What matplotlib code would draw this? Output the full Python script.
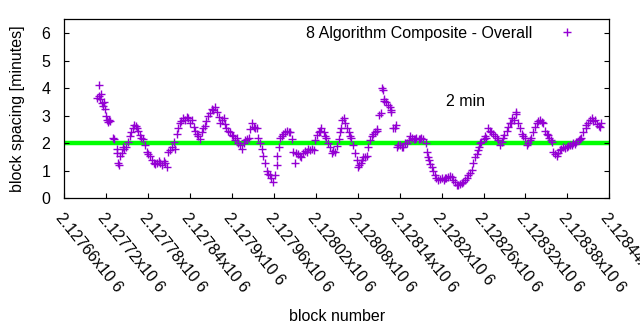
import matplotlib
matplotlib.use("Agg")
import matplotlib.pyplot as plt

plt.rcParams["font.family"] = ["Liberation Sans", "DejaVu Sans"]
plt.rcParams["font.size"] = 11.5

# block offsets from the first block on the axis, and spacing in minutes
first_block = 2127660
block_offset = [
    47, 49, 50, 51, 53, 54, 56, 57, 58, 60, 61, 62, 64, 66, 69, 71, 75, 76, 77, 78,
    80, 82, 84, 86, 88, 91, 94, 95, 98, 100, 103, 104, 106, 108, 110, 113, 115, 118, 120, 122,
    125, 128, 130, 132, 135, 137, 140, 142, 144, 147, 149, 151, 154, 157, 158, 161, 163, 166, 167, 170,
    173, 176, 177, 180, 183, 185, 187, 190, 192, 194, 197, 199, 202, 203, 206, 208, 211, 213, 216, 218,
    221, 223, 225, 228, 230, 232, 235, 237, 240, 242, 245, 247, 249, 251, 254, 257, 258, 261, 264, 266,
    268, 271, 273, 276, 277, 280, 283, 285, 287, 290, 292, 294, 296, 299, 302, 304, 305, 307, 309, 312,
    313, 316, 319, 321, 323, 326, 328, 330, 332, 335, 338, 339, 342, 345, 347, 349, 352, 354, 357, 359,
    362, 364, 366, 368, 371, 373, 375, 378, 380, 383, 385, 387, 390, 393, 394, 396, 398, 400, 402, 404,
    407, 409, 411, 413, 416, 419, 420, 422, 424, 426, 428, 430, 433, 435, 438, 440, 442, 445, 447, 448,
    451, 453, 455, 456, 457, 458, 461, 463, 466, 467, 468, 471, 474, 475, 476, 478, 481, 483, 485, 487,
    490, 493, 495, 497, 500, 502, 504, 507, 509, 511, 514, 517, 519, 520, 522, 524, 526, 528, 530, 532,
    535, 538, 540, 543, 545, 547, 549, 552, 555, 556, 559, 562, 564, 566, 569, 571, 574, 576, 578, 581,
    584, 585, 588, 590, 592, 593, 595, 597, 600, 602, 604, 607, 609, 611, 614, 617, 619, 621, 624, 626,
    628, 630, 633, 635, 638, 639, 641, 644, 646, 647, 649, 652, 655, 656, 659, 662, 664, 666, 668, 671,
    674, 676, 678, 681, 683, 685, 688, 691, 692, 694, 696, 698, 700, 702, 705, 707, 710, 711, 714, 717,
    719, 721, 724, 727, 728, 731, 733, 736, 738, 740, 743, 746, 747, 750, 753, 755, 757, 760, 762, 765,
    766, 768,
]
spacing_min = [
    3.65, 3.72, 4.13, 3.60, 3.78, 3.45, 3.35, 3.50, 3.26, 3.00, 2.85, 2.78, 2.83, 2.80, 2.20, 2.15, 1.80, 1.63, 1.30, 1.20,
    1.55, 1.65, 1.85, 1.80, 1.85, 2.05, 2.28, 2.40, 2.57, 2.65, 2.64, 2.55, 2.46, 2.30, 2.20, 2.17, 1.95, 1.67, 1.60, 1.55,
    1.40, 1.30, 1.25, 1.27, 1.35, 1.30, 1.22, 1.35, 1.27, 1.15, 1.67, 1.75, 1.85, 2.03, 1.80, 2.35, 2.55, 2.75, 2.80, 2.90,
    2.85, 2.95, 2.93, 2.75, 2.83, 2.60, 2.46, 2.35, 2.28, 2.17, 2.40, 2.57, 2.64, 2.80, 3.00, 3.10, 3.26, 3.20, 3.30, 3.12,
    2.95, 2.75, 2.85, 2.93, 2.70, 2.57, 2.45, 2.39, 2.30, 2.28, 2.10, 2.20, 2.00, 1.92, 1.80, 2.00, 2.10, 2.15, 2.20, 2.50,
    2.72, 2.60, 2.54, 2.54, 2.20, 2.00, 1.80, 1.55, 1.30, 1.00, 0.90, 0.83, 0.75, 0.58, 0.83, 1.20, 1.55, 1.85, 2.20, 2.28,
    2.35, 2.40, 2.46, 2.42, 2.39, 2.17, 1.67, 1.30, 1.63, 1.60, 1.55, 1.50, 1.63, 1.70, 1.67, 1.80, 1.74, 1.78, 1.74, 2.10,
    2.30, 2.39, 2.45, 2.54, 2.40, 2.28, 2.20, 2.00, 1.85, 1.63, 1.70, 1.67, 1.90, 2.17, 2.40, 2.54, 2.83, 2.90, 2.72, 2.54,
    2.40, 2.28, 2.20, 1.92, 1.63, 1.38, 1.12, 1.20, 1.27, 1.40, 1.49, 1.50, 1.55, 1.85, 2.10, 2.28, 2.35, 2.39, 2.50, 2.46,
    3.04, 3.10, 3.99, 3.95, 3.62, 3.55, 3.48, 3.40, 3.30, 3.20, 3.12, 2.54, 2.57, 2.65, 1.85, 1.95, 1.92, 1.88, 1.85, 2.00,
    2.00, 2.10, 2.28, 2.20, 2.15, 2.17, 2.20, 2.15, 2.17, 2.20, 2.17, 2.00, 1.67, 1.50, 1.38, 1.25, 1.12, 1.00, 0.83, 0.72,
    0.65, 0.70, 0.72, 0.68, 0.72, 0.75, 0.76, 0.80, 0.76, 0.68, 0.58, 0.50, 0.47, 0.52, 0.54, 0.60, 0.65, 0.72, 0.83, 0.92,
    1.01, 1.27, 1.49, 1.60, 1.74, 1.85, 2.00, 2.05, 2.17, 2.25, 2.20, 2.54, 2.45, 2.39, 2.35, 2.28, 2.20, 2.10, 1.92, 2.05,
    2.20, 2.30, 2.46, 2.60, 2.72, 2.75, 2.90, 2.85, 3.05, 3.12, 2.75, 2.54, 2.35, 2.25, 2.20, 1.92, 2.00, 2.10, 2.20, 2.39,
    2.60, 2.75, 2.80, 2.83, 2.78, 2.75, 2.46, 2.35, 2.30, 2.20, 2.10, 2.03, 1.67, 1.60, 1.55, 1.65, 1.74, 1.80, 1.85, 1.82,
    1.85, 1.90, 1.92, 1.95, 2.00, 1.98, 2.03, 2.10, 2.17, 2.20, 2.40, 2.54, 2.65, 2.75, 2.85, 2.90, 2.80, 2.83, 2.70, 2.64,
    2.60, 2.72,
]
blocks = [first_block + o for o in block_offset]

tick_blocks = [2127660, 2127720, 2127780, 2127840, 2127900, 2127960, 2128020,
               2128080, 2128140, 2128200, 2128260, 2128320, 2128380, 2128440]
tick_labels = ["%gx10 6" % (b / 1e6) for b in tick_blocks]
target_min = 2.0

fig = plt.figure(figsize=(6.4, 3.3), dpi=100)
ax = fig.add_axes([64.3 / 640, 1 - 198.3 / 330, 545 / 640, 179 / 330])

# 2분 기준선
ax.axhline(target_min, color="#00ff00", lw=3.2, zorder=1)
ax.plot(blocks, spacing_min, ls="none", marker="+", ms=6, mew=1.0,
        color="#9400d3", label="8 Algorithm Composite - Overall", zorder=2)

ax.text(2128206, 3.5, "2 min", ha="left", va="center")

ax.set_xlim(tick_blocks[0], tick_blocks[-1])
ax.set_ylim(0, 6.5)
ax.set_yticks(range(7))
ax.set_xticks(tick_blocks)
ax.set_xticklabels(tick_labels, rotation=-51, ha="left", va="top",
                   rotation_mode="anchor")
ax.tick_params(direction="in", length=3.5, width=0.8, right=True, top=False)
ax.tick_params(axis="x", pad=8.5)
ax.tick_params(axis="y", pad=10)
for s in ax.spines.values():
    s.set_linewidth(0.9)

ax.set_xlabel("block number")
ax.set_ylabel("block spacing [minutes]")
ax.xaxis.set_label_coords(0.5, -0.62)
ax.yaxis.set_label_coords(-0.073, 0.5)

ax.legend(loc="upper right", bbox_to_anchor=(0.9515, 0.965), frameon=False,
          markerfirst=False, borderaxespad=0, borderpad=0, handletextpad=1.14,
          handlelength=2.0)

fig.savefig("out.png", dpi=100)
